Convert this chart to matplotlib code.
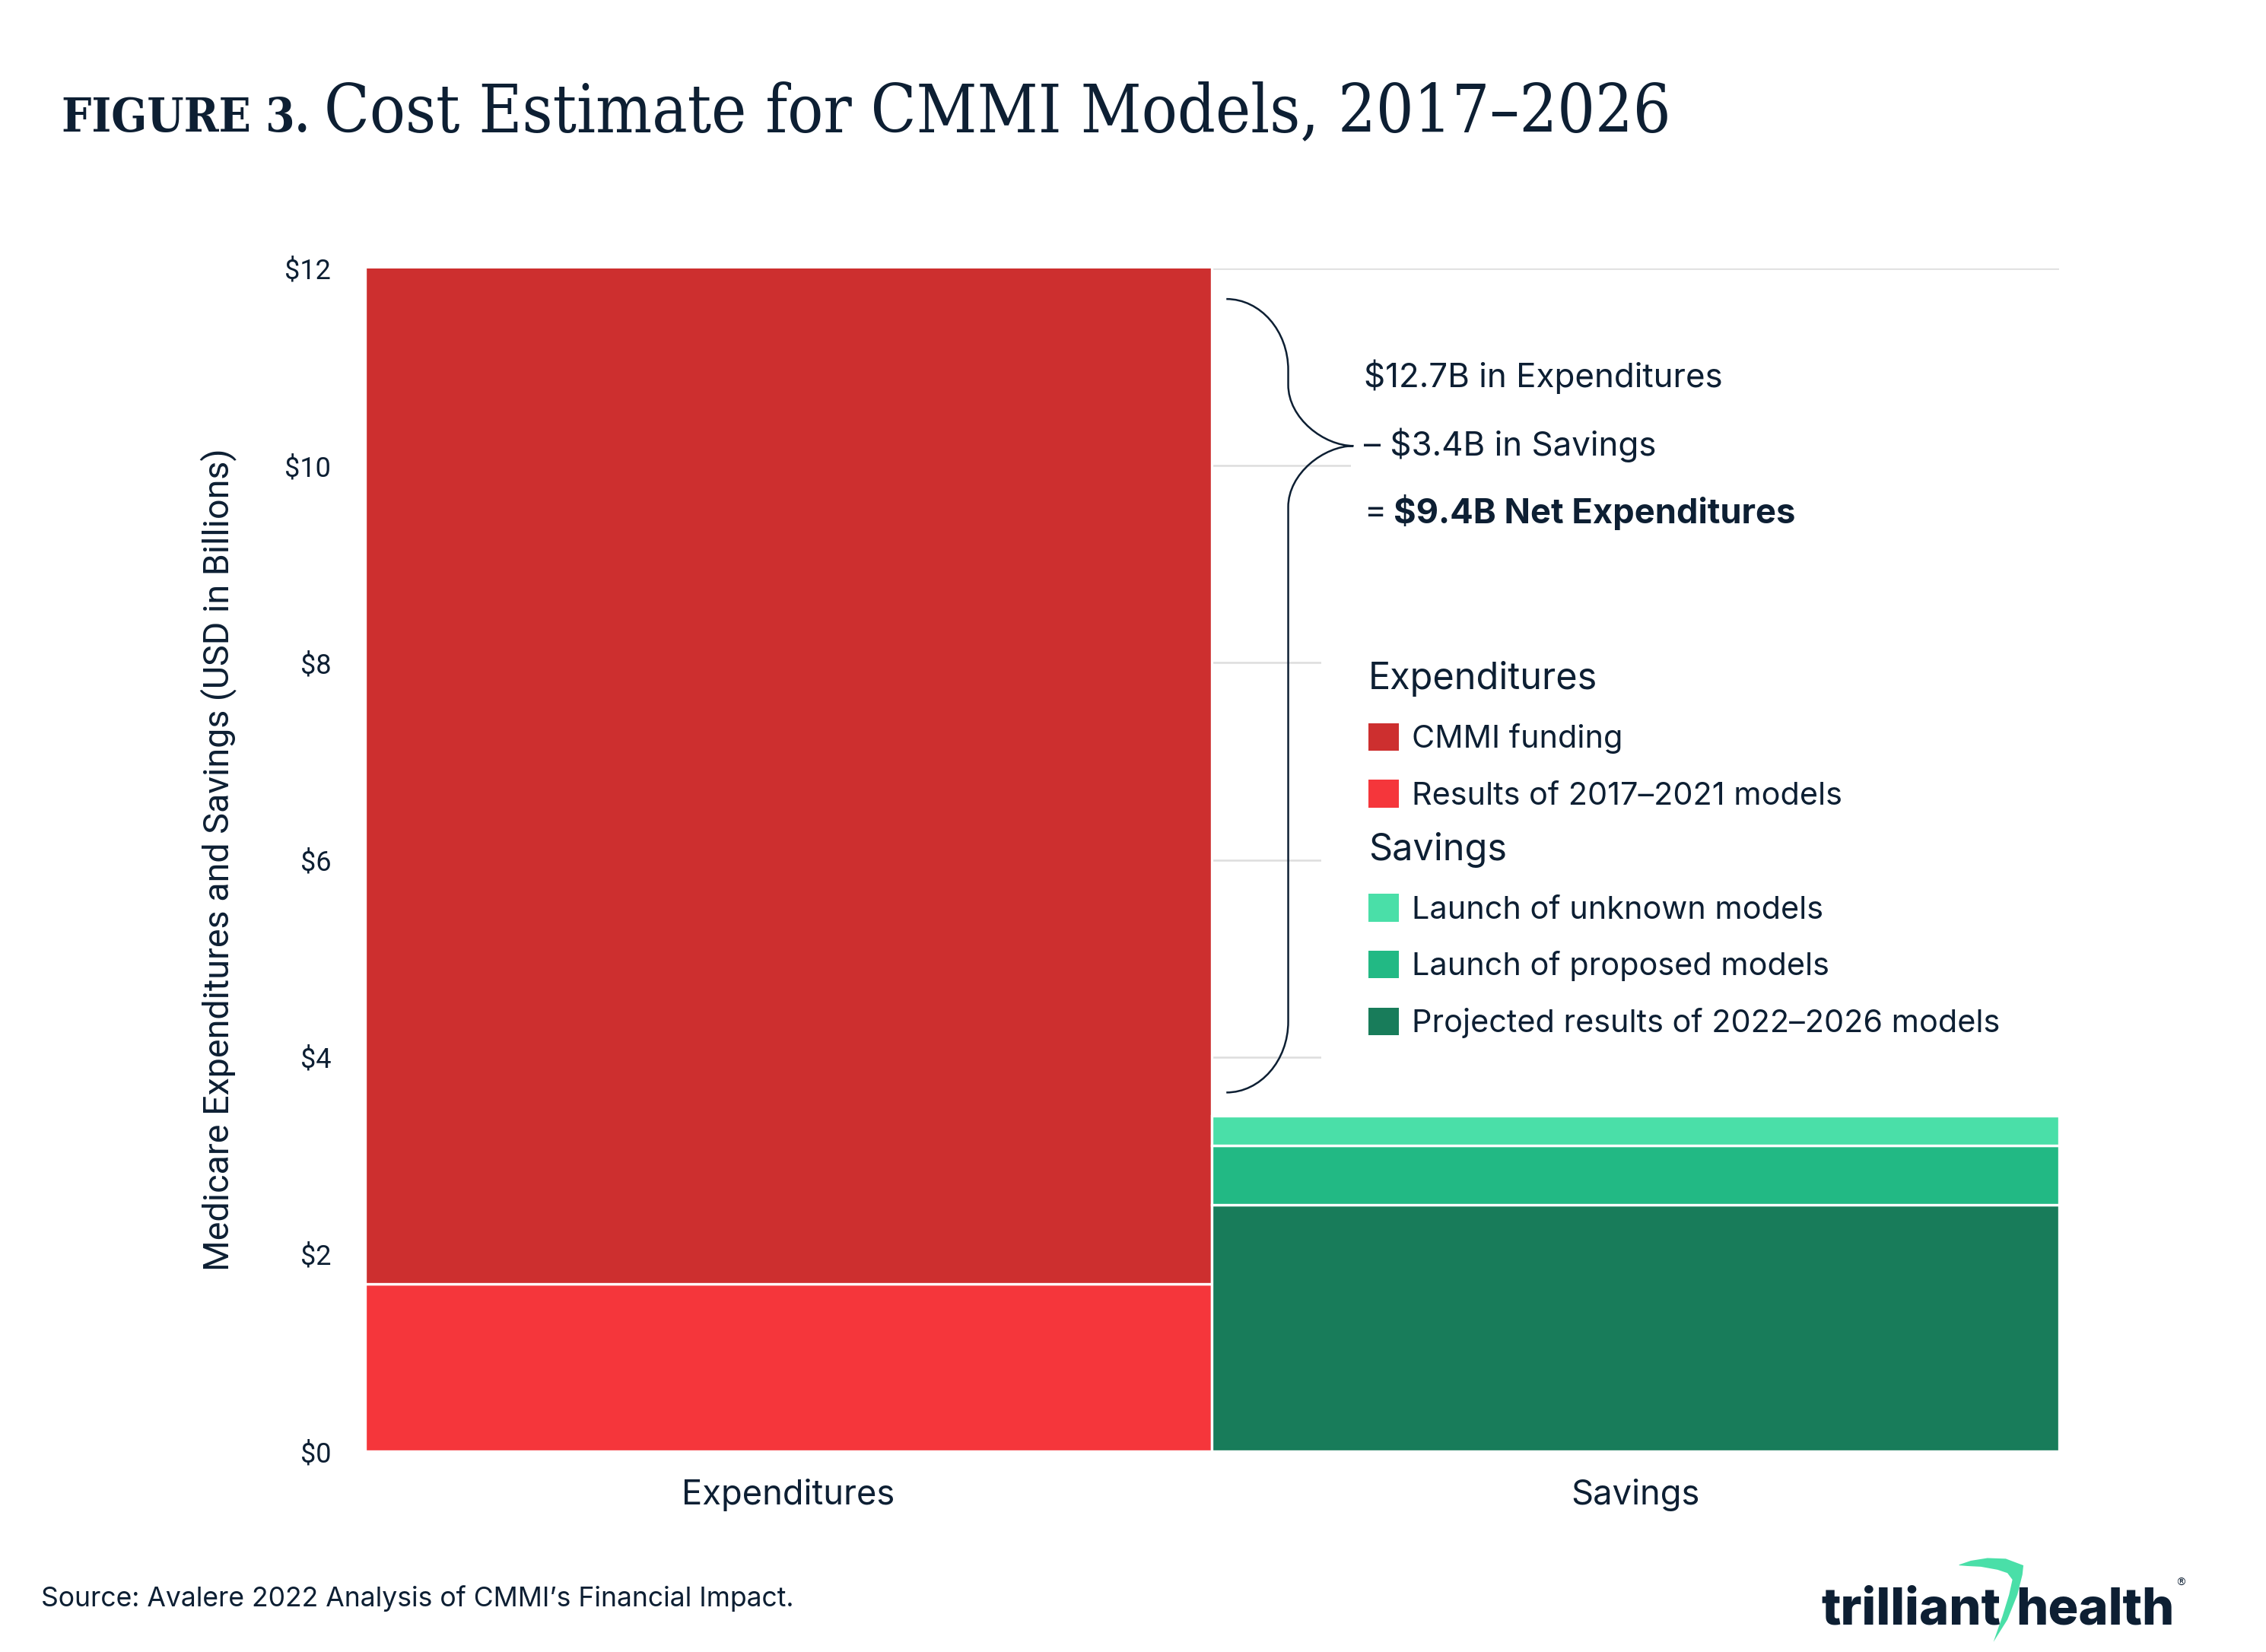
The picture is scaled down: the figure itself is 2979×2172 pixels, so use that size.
import matplotlib
matplotlib.use("Agg")
import matplotlib.pyplot as plt
from matplotlib.patches import Patch, PathPatch, Rectangle, Polygon
from matplotlib.path import Path
from matplotlib.font_manager import FontProperties, fontManager

plt.rcParams['text.parse_math'] = False

# ---------------- data ----------------
categories = ["Expenditures", "Savings"]
exp_labels = ["CMMI funding", "Results of 2017–2021 models"]
exp_values = [11.0, 1.7]                 # top -> bottom
sav_labels = ["Launch of unknown models", "Launch of proposed models",
              "Projected results of 2022–2026 models"]
sav_values = [0.3, 0.6, 2.5]             # top -> bottom
y_ticks = [0, 2, 4, 6, 8, 10, 12]
y_tick_labels = ["$0", "$2", "$4", "$6", "$8", "$10", "$12"]
total_exp = 12.7
total_sav = 3.4
net_exp = 9.4

exp_colors = ["#CD2F2F", "#F5363B"]
sav_colors = ["#4ADFA8", "#22B984", "#187C5A"]
NAVY = "#0D1F33"
GRID = "#DDDDDD"

W, H = 2979, 2172
fig = plt.figure(figsize=(W / 200, H / 200), dpi=200)
fig.patch.set_facecolor("white")
ax = fig.add_axes([0.161, 0.1215, 0.7477, 0.716])

# ---------------- bars ----------------
for xi, vals, cols in [(0, exp_values, exp_colors), (1, sav_values, sav_colors)]:
    bottom = 0.0
    for v, c in zip(vals[::-1], cols[::-1]):
        ax.bar(xi, v, bottom=bottom, width=1.0, color=c, edgecolor="white",
               linewidth=1.2, zorder=2)
        bottom += v

ax.set_xlim(-0.5, 1.5)
ax.set_ylim(0, 12)
ax.set_xticks([0, 1], categories)
ax.set_yticks(y_ticks, y_tick_labels)
for s in ax.spines.values():
    s.set_visible(False)
ax.tick_params(axis="both", length=0)
ax.tick_params(axis="y", pad=16, labelcolor=NAVY)
ax.tick_params(axis="x", pad=13, labelcolor=NAVY)
for lbl in ax.get_yticklabels():
    lbl.set_fontfamily("Roboto")
    lbl.set_fontsize(13)
for lbl in ax.get_xticklabels():
    lbl.set_fontfamily("Inter")
    lbl.set_fontsize(16.3)
ax.yaxis.grid(True, color=GRID, linewidth=0.9)
ax.set_axisbelow(True)

ax.set_ylabel("Medicare Expenditures and Savings (USD in Billions)",
              fontfamily="Roboto", fontsize=16.8, color=NAVY)
ax.yaxis.set_label_coords(-0.0759, 0.5)

# white masks behind the annotation / legend (hide gridlines there)
ax.add_patch(Rectangle((0.629, 3.8), 0.871, 4.6, transform=ax.transData,
                       facecolor="white", edgecolor="none", zorder=1.5))
ax.add_patch(Rectangle((0.664, 9.7), 0.836, 1.0, transform=ax.transData,
                       facecolor="white", edgecolor="none", zorder=1.5))

# ---------------- annotation text ----------------
yx = ax.get_yaxis_transform()
tx = 0.5897
FS_A = 15.8
ax.text(tx, 10.90, f"${total_exp}B in Expenditures", transform=yx, va="center",
        ha="left", fontfamily="Inter", fontsize=FS_A, color=NAVY, zorder=4)
ax.text(tx, 10.21, f"– ${total_sav}B in Savings", transform=yx, va="center",
        ha="left", fontfamily="Inter", fontsize=FS_A, color=NAVY, zorder=4)
t3 = ax.text(tx, 9.526, "=", transform=yx, va="center", ha="left",
             fontfamily="Inter", fontsize=FS_A, color=NAVY, zorder=4)
ax.annotate(f"${net_exp}B Net Expenditures", xy=(1, 0.5), xycoords=t3,
            xytext=(3.5, 0), textcoords="offset points", va="center", ha="left",
            fontfamily="Inter", fontsize=16.3, fontweight="bold", color=NAVY,
            zorder=4)

# ---------------- brace ----------------
x0, xs, xt = 0.517, 0.59, 0.667
yt, ytip, yb = 11.69, 10.2, 3.64
h1, h2 = 0.72, 0.62
k = 0.55
verts = [
    (x0, yt),
    (x0 + k * (xs - x0), yt), (xs, yt - h1 * (1 - k)), (xs, yt - h1),
    (xs, ytip + h2),
    (xs, ytip + h2 * (1 - k)), (xs + k * (xt - xs), ytip), (xt, ytip),
    (xs + k * (xt - xs), ytip), (xs, ytip - h2 * (1 - k)), (xs, ytip - h2),
    (xs, yb + h1),
    (xs, yb + h1 * (1 - k)), (x0 + k * (xs - x0), yb), (x0, yb),
]
codes = [Path.MOVETO,
         Path.CURVE4, Path.CURVE4, Path.CURVE4,
         Path.LINETO,
         Path.CURVE4, Path.CURVE4, Path.CURVE4,
         Path.CURVE4, Path.CURVE4, Path.CURVE4,
         Path.LINETO,
         Path.CURVE4, Path.CURVE4, Path.CURVE4]
ax.add_patch(PathPatch(Path(verts, codes), facecolor="none", edgecolor=NAVY,
                       linewidth=0.9, zorder=5))

# ---------------- legends ----------------
leg_kw = dict(loc="upper left", frameon=False, borderpad=0, borderaxespad=0,
              handlelength=0.97, handleheight=0.97, handletextpad=0.42,
              labelspacing=0.83, alignment="left",
              prop={"family": "Inter", "size": 14.9},
              title_fontproperties={"family": "Inter", "size": 17.5},
              labelcolor=NAVY)
h_e = [Patch(facecolor=c, edgecolor="none") for c in exp_colors]
leg1 = ax.legend(h_e, exp_labels, title="Expenditures",
                 bbox_to_anchor=(0.5922, 0.668), **leg_kw)
leg1.get_title().set_color(NAVY)
leg1.set_zorder(6)
ax.add_artist(leg1)
h_s = [Patch(facecolor=c, edgecolor="none") for c in sav_colors]
leg2 = ax.legend(h_s, sav_labels, title="Savings",
                 bbox_to_anchor=(0.5922, 0.5234), **leg_kw)
leg2.get_title().set_color(NAVY)
leg2.set_zorder(6)

# ---------------- source ----------------
fig.text(54 / W, 1 - 2102 / H,
         "Source: Avalere 2022 Analysis of CMMI’s Financial Impact.",
         fontfamily="Inter", fontsize=12.8, color=NAVY, va="center", ha="left")

# ---------------- title ----------------
cond = [f.fname for f in fontManager.ttflist if "DejaVuSerifCondensed" in f.fname]
reg_f = [f for f in cond if f.endswith("DejaVuSerifCondensed.ttf")]
bold_f = [f for f in cond if f.endswith("DejaVuSerifCondensed-Bold.ttf")]
if reg_f and bold_f:
    fp_reg = FontProperties(fname=reg_f[0])
    fp_bold = FontProperties(fname=bold_f[0])
else:
    fp_reg = FontProperties(family="Liberation Serif")
    fp_bold = FontProperties(family="Liberation Serif", weight="bold")

fig.canvas.draw()
r = fig.canvas.get_renderer()
base = 40
ta = fig.text(0, 0, "FIGURE 3.", fontproperties=fp_bold, fontsize=base,
              color=NAVY, va="baseline", ha="left")
tb = fig.text(0, 0, "Cost Estimate for CMMI Models, 2017–2026",
              fontproperties=fp_reg, fontsize=base, color=NAVY,
              va="baseline", ha="left")
wa = ta.get_window_extent(r).width
wb = tb.get_window_extent(r).width
sa = min(1.0, 326 / wa)
sb = min(1.2, 1772 / wb)
ta.set_fontsize(base * sa)
tb.set_fontsize(base * sb)
ty = 1 - 173 / H
ta.set_position((81 / W, ty))
tb.set_position((426 / W, ty))

# ---------------- logo ----------------
lx0, lbase = 2394, 2136
l1 = fig.text(0, 0, "trilliant", fontfamily="Inter", fontweight="heavy",
              fontsize=30, color=NAVY, va="baseline", ha="left")
l2 = fig.text(0, 0, "health", fontfamily="Inter", fontweight="heavy",
              fontsize=30, color=NAVY, va="baseline", ha="left")
w1 = l1.get_window_extent(r).width
lscale = 236 / w1
l1.set_fontsize(30 * lscale)
l2.set_fontsize(30 * lscale)
l1.set_position((lx0 / W, 1 - lbase / H))
l2.set_position(((lx0 + 236 + 20) / W, 1 - lbase / H))
fig.text((lx0 + 466) / W, 1 - (lbase - 55) / H, "®", fontfamily="DejaVu Sans",
         fontsize=5, color=NAVY, va="center", ha="left")

kz = 0.4376
def lp(zx, zy):
    X = lx0 + (zx - 160) * kz
    Y = lbase + (zy - 240) * kz
    return (X / W, 1 - Y / H)
sw = [(575, 60), (610, 48), (660, 40), (715, 42), (768, 62),
      (765, 90), (750, 150), (720, 225), (678, 292),
      (705, 215), (725, 150), (735, 105),
      (720, 85), (690, 75), (640, 66), (600, 64), (575, 62)]
fig.add_artist(Polygon([lp(*p) for p in sw], closed=True, transform=fig.transFigure,
                       facecolor="#4ADFA8", edgecolor="none"))

fig.savefig("out.png", dpi=200, facecolor="white")
